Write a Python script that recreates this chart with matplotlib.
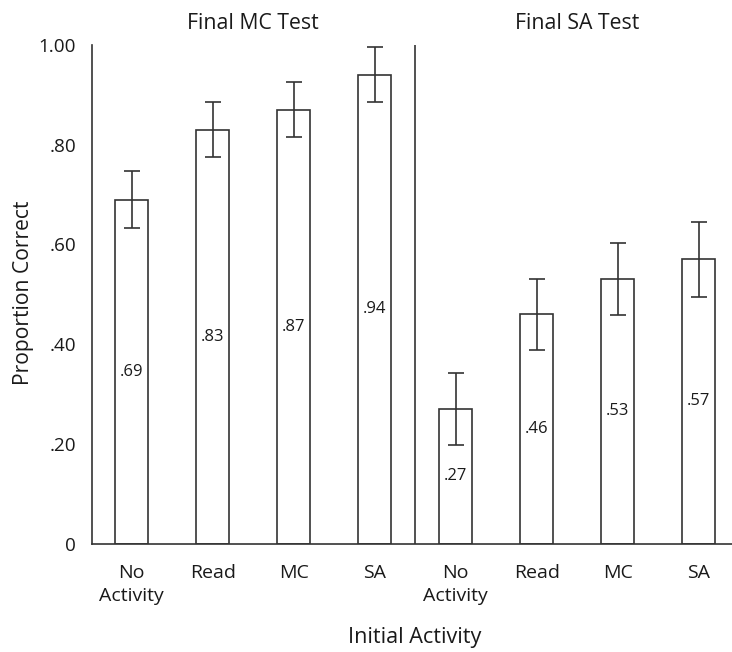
import numpy as np
import matplotlib.pyplot as plt

# -----------------------------
# Data
# -----------------------------
activities = ["No\nActivity", "Read", "MC", "SA", "No\nActivity", "Read", "MC", "SA"]
mc_test = [0.69, 0.83, 0.87, 0.94]
sa_test = [0.27, 0.46, 0.53, 0.57]
mc_err = [0.057, 0.055, 0.055, 0.055]
sa_err = [0.072, 0.071, 0.072, 0.075]
panel_titles = ["Final MC Test", "Final SA Test"]
y_ticks = [0, 0.2, 0.4, 0.6, 0.8, 1.0]
y_labels = ["0", ".20", ".40", ".60", ".80", "1.00"]

values = mc_test + sa_test
errors = mc_err + sa_err
x = np.arange(len(values))

plt.rcParams['font.family'] = ['Open Sans', 'DejaVu Sans']
line_col = "#333333"
text_col = "#1a1a1a"

# -----------------------------
# Plot
# -----------------------------
fig = plt.figure(figsize=(7.32, 6.52), dpi=100)
ax = fig.add_axes([0.1257, 0.1664, 0.8743, 0.7646])

ax.bar(x, values, width=0.41, color="white", edgecolor=line_col, linewidth=1.2, zorder=2)
ax.errorbar(x, values, yerr=errors, fmt="none", ecolor=line_col, elinewidth=1.2,
            capsize=6, capthick=1.2, zorder=3)

# value labels in the middle of each bar
for xi, v in zip(x, values):
    ax.text(xi, v / 2, ("%.2f" % v)[1:], ha="center", va="center", fontsize=12, color=text_col)

# divider between the two test panels
ax.axvline(3.5, ymin=0, ymax=1, color=line_col, linewidth=1.2)

ax.set_xlim(-0.49, 7.41)
ax.set_ylim(0, 1.0)
ax.set_xticks(x)
ax.set_xticklabels(activities, fontsize=14, color=text_col, linespacing=1.35)
ax.set_yticks(y_ticks)
ax.set_yticklabels(y_labels, fontsize=13.6, color=text_col)
ax.tick_params(length=0)
ax.tick_params(axis="y", pad=11.5)
ax.tick_params(axis="x", pad=15)

for side in ["top", "right"]:
    ax.spines[side].set_visible(False)
for side in ["left", "bottom"]:
    ax.spines[side].set_color(line_col)
    ax.spines[side].set_linewidth(1.2)

# panel titles
for xc, title in zip([1.5, 5.5], panel_titles):
    ax.text(xc, 1.0315, title, ha="center", va="baseline", fontsize=15.3, color=text_col,
            transform=ax.get_xaxis_transform())

fig.text(24 / 732, 1 - 293 / 652, "Proportion Correct", rotation=90, ha="center", va="center",
         fontsize=15.2, color=text_col)
fig.text(415 / 732, 1 - 638 / 652, "Initial Activity", ha="center", va="center",
         fontsize=15.6, color=text_col)

fig.savefig("out.png", dpi=100)
